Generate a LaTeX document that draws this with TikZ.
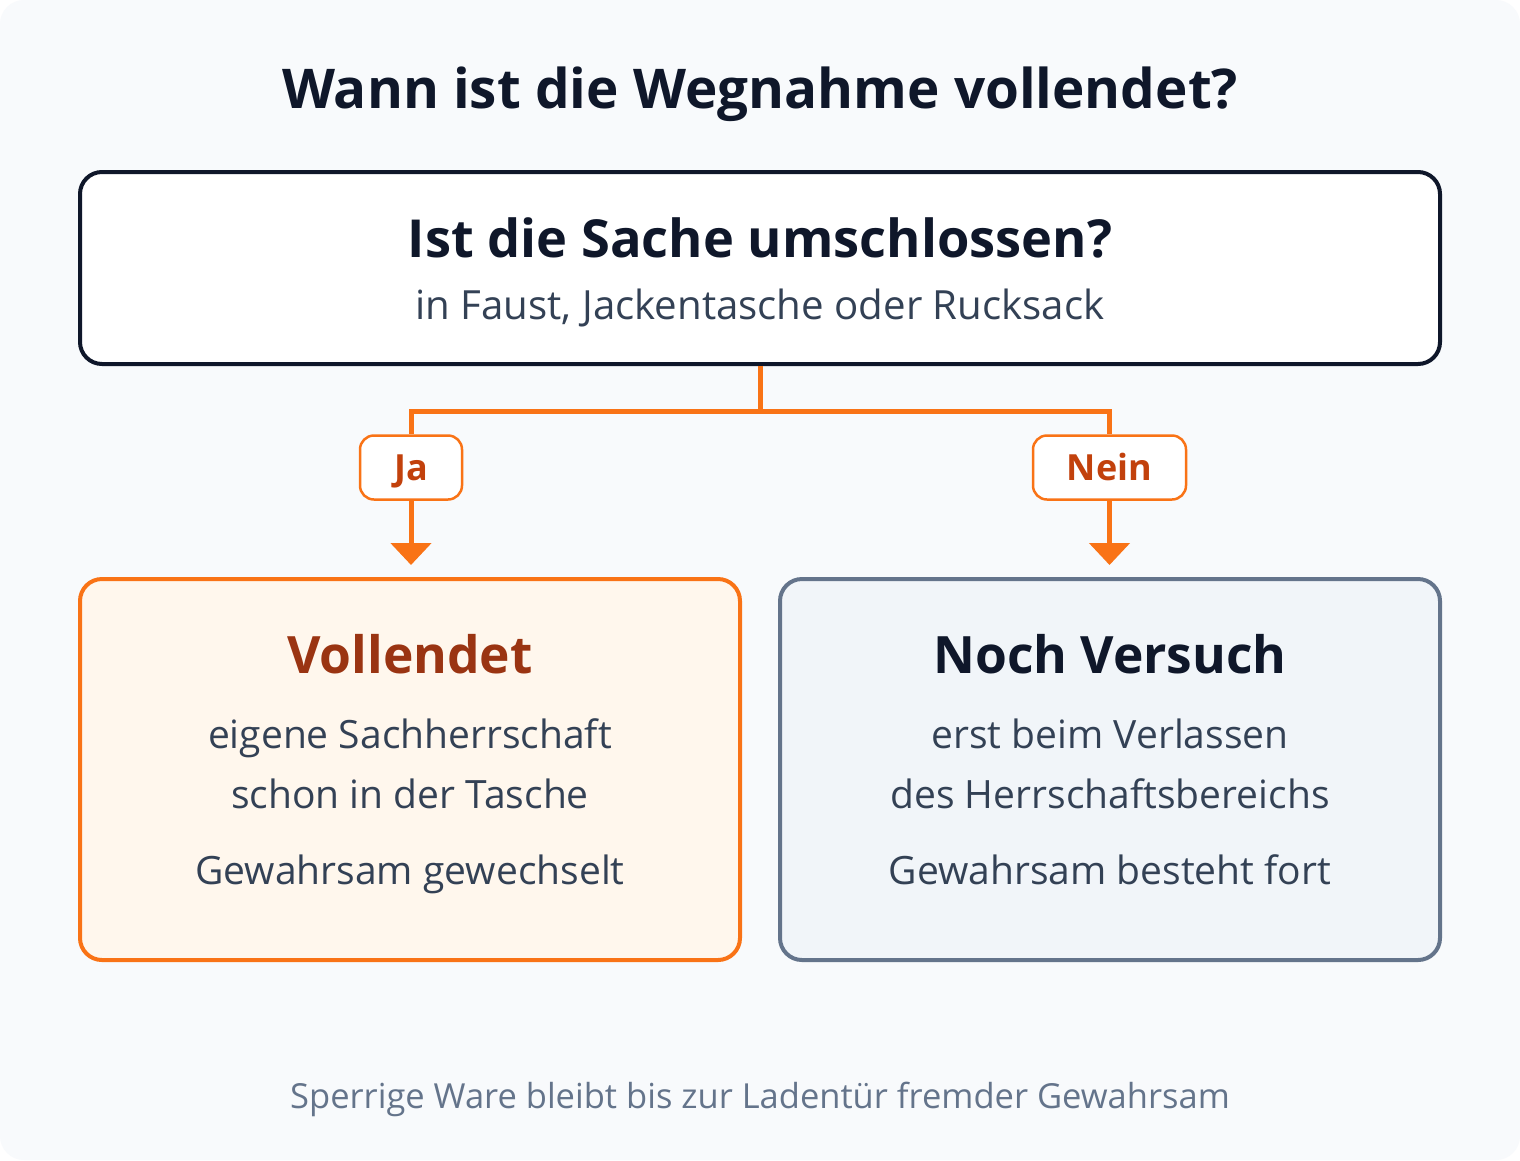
\documentclass[tikz,border=0pt]{standalone}
\usepackage{fontspec}
\setmainfont{Open Sans}
\usetikzlibrary{arrows.meta}
\definecolor{bgc}{HTML}{F8FAFC}
\definecolor{ink}{HTML}{0F172A}
\definecolor{body}{HTML}{334155}
\definecolor{orng}{HTML}{F97316}
\definecolor{orfill}{HTML}{FFF7ED}
\definecolor{ordark}{HTML}{C2410C}
\definecolor{brown}{HTML}{9A3412}
\definecolor{slate}{HTML}{64748B}
\definecolor{slfill}{HTML}{F1F5F9}
\newcommand{\fsz}[1]{\fontsize{#1}{#1}\selectfont}
\tikzset{
  box/.style={draw, rounded corners=22pt, line width=4pt, inner sep=0pt},
  lbl/.style={draw=orng, fill=white, rounded corners=14pt, line width=2.5pt, inner sep=0pt,
    text=ordark, font=\fsz{36}\bfseries, text height=25.7pt, text depth=0pt},
  conn/.style={draw=orng, line width=5pt},
  arr/.style={conn, -{Triangle[width=40pt,length=22pt]}, shorten >=12pt},
  txt/.style={anchor=base, inner sep=0pt, text=body, font=\fsz{39}},
  head/.style={anchor=base, inner sep=0pt, text=ink, font=\fsz{51.5}\bfseries},
}
\begin{document}
\begin{tikzpicture}[x=1pt,y=-1pt]
\useasboundingbox (0,0) rectangle (1520,1160);
\fill[white] (0,0) rectangle (1520,1160);
\fill[bgc, rounded corners=24pt] (0,0) rectangle (1520,1160);

\node[head, font=\fsz{54.8}\bfseries] (title) at (760,108) {Wann ist die Wegnahme vollendet?};

\node[box, draw=ink, fill=white, minimum width=1360pt, minimum height=192pt] (q) at (760,268) {};
\node[head, font=\fsz{52.4}\bfseries] (qh) at (760,257) {Ist die Sache umschlossen?};
\node[txt, font=\fsz{40.2}] (qs) at (760,319) {in Faust, Jackentasche oder Rucksack};

\node[box, draw=orng, fill=orfill, minimum width=660pt, minimum height=381pt] (yes) at (410,769.5) {};
\node[box, draw=slate, fill=slfill, minimum width=660pt, minimum height=381pt] (no) at (1110,769.5) {};

\node[lbl, minimum width=102pt, minimum height=64pt] (ja) at (411,467.5) {Ja};
\node[lbl, minimum width=153pt, minimum height=64pt] (nein) at (1109.5,467.5) {Nein};

\coordinate (fork) at (760,411);
\draw[conn] (q.south) -- (fork) -| (ja.north);
\draw[conn] (fork) -| (nein.north);
\draw[arr] (ja.south) -- (ja.south |- yes.north);
\draw[arr] (nein.south) -- (nein.south |- no.north);

\node[head, text=brown] (yh) at (410,673) {Vollendet};
\node[txt] (y1) at (410,748) {eigene Sachherrschaft};
\node[txt] (y2) at (410,808) {schon in der Tasche};
\node[txt] (y3) at (410,884) {Gewahrsam gewechselt};

\node[head] (nh) at (1110,673) {Noch Versuch};
\node[txt] (n1) at (1110,748) {erst beim Verlassen};
\node[txt] (n2) at (1110,808) {des Herrschaftsbereichs};
\node[txt] (n3) at (1110,884) {Gewahrsam besteht fort};

\node[anchor=base, inner sep=0pt, text=slate, font=\fsz{34.5}] (foot) at (760,1108) {Sperrige Ware bleibt bis zur Ladentür fremder Gewahrsam};
\end{tikzpicture}
\end{document}
